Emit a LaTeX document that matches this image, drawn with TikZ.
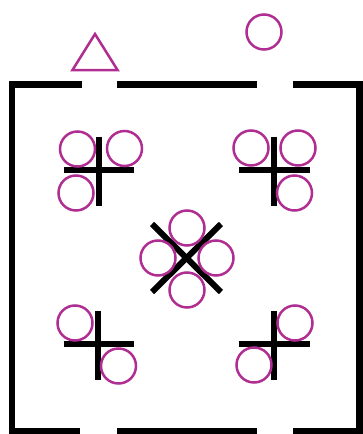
\documentclass[tikz,border=0pt]{standalone}
\definecolor{mag}{RGB}{176,46,146}
\begin{document}
\begin{tikzpicture}[x=1pt,y=-1pt,
  wall/.style={line width=6.5pt,line join=miter,line cap=butt,black},
  bar/.style={line width=6pt,line cap=butt,black},
  seat/.style={circle,draw=mag,line width=2.5pt,inner sep=0pt,minimum size=35pt},
  tri/.style={draw=mag,line width=2.5pt,line join=miter}]
\useasboundingbox (0,0) rectangle (363,434);
% walls
\draw[wall] (82,84.5) -- (12,84.5) -- (12,431) -- (80,431);
\draw[wall] (117,84.5) -- (257,84.5);
\draw[wall] (117,431) -- (257,431);
\draw[wall] (293,84.5) -- (359.5,84.5) -- (359.5,431) -- (293,431);
% pluses
\draw[bar] (99,137) -- (99,206); \draw[bar] (64,170) -- (134,170);
\draw[bar] (274,137) -- (274,206); \draw[bar] (239,170) -- (310,170);
\draw[bar] (98,311) -- (98,380); \draw[bar] (64,344) -- (134,344);
\draw[bar] (274,311) -- (274,380); \draw[bar] (239,344) -- (310,344);
% X
\draw[bar] (152,224) -- (221,292);
\draw[bar] (221,224) -- (152,292);
% triangle
\draw[tri] (95,34) -- (117.5,70) -- (72.5,70) -- cycle;
% circles
\node[seat] (top) at (264,32) {};
\node[seat] (tl1) at (77.5,149) {};
\node[seat] (tl2) at (124.5,148.5) {};
\node[seat] (tl3) at (76,193) {};
\node[seat] (tr1) at (251,148) {};
\node[seat] (tr2) at (298,148) {};
\node[seat] (tr3) at (294.5,193) {};
\node[seat] (c1) at (187,228) {};
\node[seat] (c2) at (158,258) {};
\node[seat] (c3) at (216,258) {};
\node[seat] (c4) at (187,290) {};
\node[seat] (bl1) at (75,323) {};
\node[seat] (bl2) at (118.5,366) {};
\node[seat] (br1) at (295,323) {};
\node[seat] (br2) at (254,365) {};
\end{tikzpicture}
\end{document}
